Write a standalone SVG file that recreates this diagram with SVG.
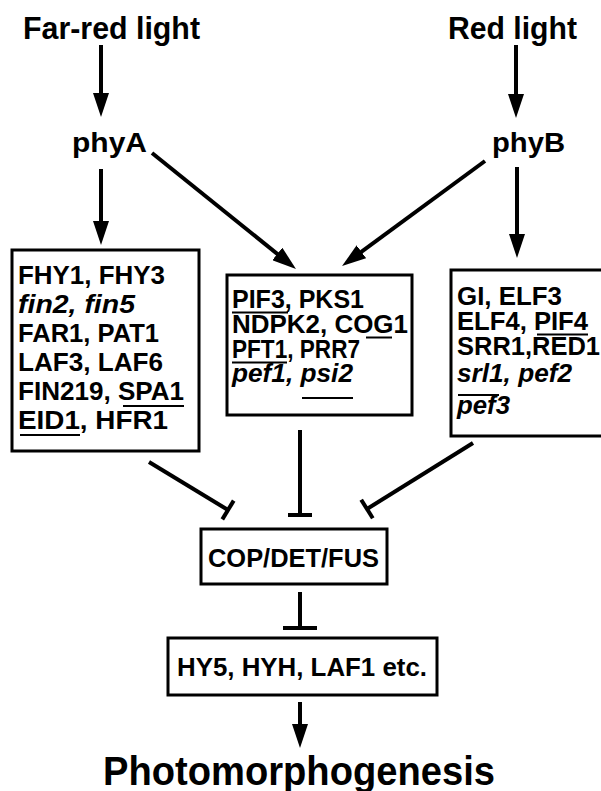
<svg xmlns="http://www.w3.org/2000/svg" width="601" height="791" viewBox="0 0 601 791">
<style>
text{font-family:"Liberation Sans",Arial,sans-serif;font-weight:bold;fill:#000}
.it{font-style:italic}
.t{font-size:25px}
.box{fill:#fff;stroke:#000;stroke-width:3}
.ln{stroke:#000;stroke-width:4;fill:none}
.ul{stroke:#000;stroke-width:2}
.arr{marker-end:url(#ah)}
</style>
<defs>
<marker id="ah" viewBox="0 0 24 16" refX="14" refY="8" markerWidth="24" markerHeight="16" markerUnits="userSpaceOnUse" orient="auto">
<path d="M0,0 L24,8 L0,16 z" fill="#000"/>
</marker>
</defs>
<rect width="601" height="791" fill="#fff"/>
<g id="connectors">
<line class="ln arr" x1="101" y1="45" x2="101" y2="107"/>
<line class="ln arr" x1="516" y1="45" x2="516" y2="108"/>
<line class="ln arr" x1="101" y1="169" x2="101" y2="235"/>
<line class="ln arr" x1="517" y1="167" x2="517" y2="248"/>
<line class="ln arr" x1="152" y1="153" x2="288.2" y2="262.7"/>
<line class="ln arr" x1="485" y1="161" x2="350.1" y2="260.1"/>
<line class="ln arr" x1="300" y1="702" x2="300" y2="738"/>
<line class="ln" x1="149" y1="462" x2="228" y2="510"/>
<line class="ln" x1="233.7" y1="500.6" x2="222.3" y2="519.4"/>
<line class="ln" x1="300" y1="430" x2="300" y2="515"/>
<line class="ln" x1="288" y1="515" x2="312" y2="515"/>
<line class="ln" x1="473" y1="443" x2="367" y2="509"/>
<line class="ln" x1="372.8" y1="518.3" x2="361.2" y2="499.7"/>
<line class="ln" x1="300" y1="592" x2="300" y2="628"/>
<line class="ln" x1="283" y1="628" x2="317" y2="628"/>
</g>
<g id="farred"><text x="23" y="39" font-size="32" textLength="177" lengthAdjust="spacingAndGlyphs">Far-red light</text></g>
<g id="red"><text x="448" y="39" font-size="32" textLength="129" lengthAdjust="spacingAndGlyphs">Red light</text></g>
<g id="phyA"><text x="72" y="152" font-size="28" textLength="75" lengthAdjust="spacingAndGlyphs">phyA</text></g>
<g id="phyB"><text x="492" y="152" font-size="28" textLength="73" lengthAdjust="spacingAndGlyphs">phyB</text></g>
<g id="boxA">
<rect class="box" x="12" y="250" width="187" height="201"/>
<text class="t" x="18" y="284" textLength="147" lengthAdjust="spacingAndGlyphs">FHY1, FHY3</text>
<text class="t it" x="18" y="313" textLength="117" lengthAdjust="spacingAndGlyphs">fin2,  fin5</text>
<text class="t" x="18" y="342" textLength="141" lengthAdjust="spacingAndGlyphs">FAR1, PAT1</text>
<text class="t" x="18" y="371" textLength="145" lengthAdjust="spacingAndGlyphs">LAF3, LAF6</text>
<text class="t" x="18" y="400" textLength="166" lengthAdjust="spacingAndGlyphs">FIN219, SPA1</text>
<line class="ul" x1="123" y1="406" x2="184" y2="406"/>
<text class="t" x="18" y="429" textLength="150" lengthAdjust="spacingAndGlyphs">EID1, HFR1</text>
<line class="ul" x1="20" y1="435" x2="80" y2="435"/>
</g>
<g id="boxMid">
<rect class="box" x="227" y="275" width="185" height="140"/>
<text class="t" x="232" y="308" textLength="132" lengthAdjust="spacingAndGlyphs">PIF3, PKS1</text>
<line class="ul" x1="232" y1="312.5" x2="288" y2="312.5"/>
<text class="t" x="232" y="333" textLength="176" lengthAdjust="spacingAndGlyphs">NDPK2, COG1</text>
<line class="ul" x1="366" y1="337.5" x2="392" y2="337.5"/>
<text class="t" x="232" y="358" textLength="128" lengthAdjust="spacingAndGlyphs">PFT1, PRR7</text>
<line class="ul" x1="232" y1="362.5" x2="287" y2="362.5"/>
<text class="t it" x="232" y="382" textLength="121" lengthAdjust="spacingAndGlyphs">pef1, psi2</text>
<line class="ul" x1="302" y1="398" x2="353" y2="398"/>
</g>
<g id="boxB">
<rect class="box" x="451" y="270" width="160" height="166"/>
<text class="t" x="457" y="305" textLength="105" lengthAdjust="spacingAndGlyphs">GI, ELF3</text>
<text class="t" x="457" y="330" textLength="131" lengthAdjust="spacingAndGlyphs">ELF4, PIF4</text>
<line class="ul" x1="537" y1="334.5" x2="588" y2="334.5"/>
<text class="t" x="457" y="355" textLength="143" lengthAdjust="spacingAndGlyphs">SRR1,RED1</text>
<text class="t it" x="457" y="382" textLength="115" lengthAdjust="spacingAndGlyphs">srl1, pef2</text>
<line class="ul" x1="458" y1="395" x2="499" y2="395"/>
<text class="t it" x="457" y="414" textLength="53" lengthAdjust="spacingAndGlyphs">pef3</text>
</g>
<g id="cop">
<rect class="box" x="201" y="529" width="186" height="55"/>
<text x="208" y="567" font-size="25" textLength="171" lengthAdjust="spacingAndGlyphs">COP/DET/FUS</text>
</g>
<g id="hy5">
<rect class="box" x="168" y="638" width="269" height="57"/>
<text x="177" y="676" font-size="25" textLength="250" lengthAdjust="spacingAndGlyphs">HY5, HYH, LAF1 etc.</text>
</g>
<g id="photo"><text x="103" y="785" font-size="40" textLength="392" lengthAdjust="spacingAndGlyphs">Photomorphogenesis</text></g>
</svg>
